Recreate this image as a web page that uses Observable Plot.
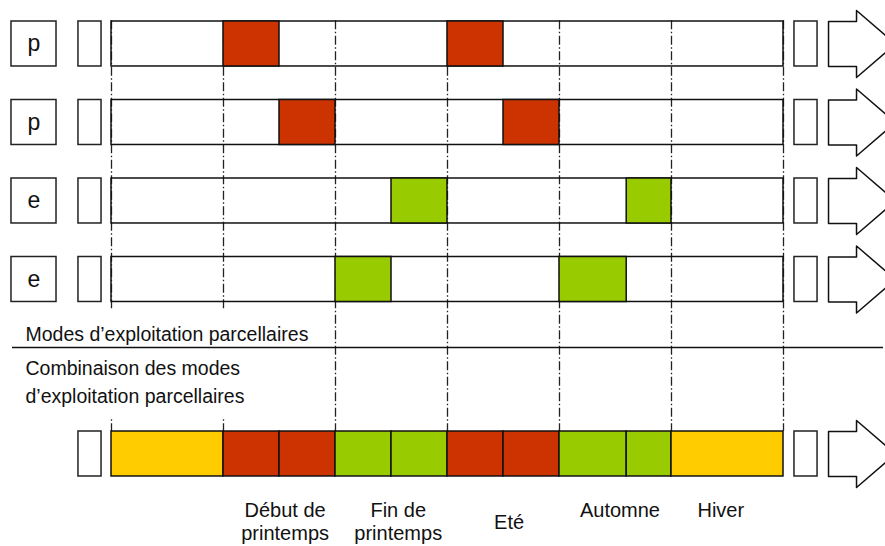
<!DOCTYPE html>
<html>
<head>
<meta charset="utf-8">
<script src="https://cdn.jsdelivr.net/npm/d3@7"></script>
<script src="https://cdn.jsdelivr.net/npm/@observablehq/plot@0.6"></script>
<style>
  html, body { margin: 0; padding: 0; background: #fff; }
  #chart { width: 885px; height: 546px; }
</style>
</head>
<body>
<div id="chart"></div>
<script>
// ---- data ----
const rowLabels = ["p", "p", "e", "e"];
// individual plot-use cells (row index, start, end, mode) in season units (0..6)
const cellRow   = [0, 0, 1, 1, 2, 2, 3, 3];
const cellStart = [1, 3, 1.5, 3.5, 2.5, 4.6, 2, 4];
const cellEnd   = [1.5, 3.5, 2, 4, 3, 5, 2.5, 4.6];
const cellMode  = ["p", "p", "p", "p", "e", "e", "e", "e"];
// combined row
const combStart = [0, 1, 1.5, 2, 2.5, 3, 3.5, 4, 4.6, 5];
const combEnd   = [1, 1.5, 2, 2.5, 3, 3.5, 4, 4.6, 5, 6];
const combMode  = ["h", "p", "p", "e", "e", "p", "p", "e", "e", "h"];
// season boundaries and labels
const boundaries = [0, 1, 2, 3, 4, 5, 6];
const seasonLabels = ["Début de\nprintemps", "Fin de\nprintemps", "Eté", "Automne", "Hiver"];
const seasonStart  = [1, 2, 3, 4, 5];
const modeNames = ["p", "e", "h"];
const modeColors = ["#CC3300", "#99CC00", "#FFCC00"];
const topText = "Modes d\u2019exploitation parcellaires";
const bottomText = "Combinaison des modes\nd\u2019exploitation parcellaires";

// ---- layout (in scale units) ----
const rowH = 0.573;
const combTop = 5.223;
const sepY = 4.153;
const seasonOffset = [0.55, 0.56, 0.55, 0.54, 0.44];
const seasonBaseline = [6.611, 6.611, 6.459, 6.318, 6.318];

const rows = rowLabels.map((label, i) => ({label, top: i}));
const cells = cellRow.map((r, i) => ({top: r, x1: cellStart[i], x2: cellEnd[i], mode: cellMode[i]}));
const comb = combStart.map((s, i) => ({top: combTop, x1: s, x2: combEnd[i], mode: combMode[i]}));
const allTops = [...rows.map(r => r.top), combTop];
const arrows = allTops.flatMap((t, k) => {
  const h = 0.14;
  const pts = [
    [6.402, t], [6.652, t], [6.652, t - h], [7.0, t + rowH / 2],
    [6.652, t + rowH + h], [6.652, t + rowH], [6.402, t + rowH], [6.402, t]
  ];
  return pts.map(([x, y]) => ({x, y, k}));
});
const seasons = seasonLabels.map((s, i) => ({
  text: s, x: seasonStart[i] + seasonOffset[i], y: seasonBaseline[i]
}));

const stroke = "#111";
const chart = Plot.plot({
  width: 885,
  height: 546,
  margin: 0,
  x: {domain: [0, 6], range: [111, 783], axis: null},
  y: {domain: [0, 1], range: [21, 99.5], axis: null},
  color: {domain: modeNames, range: modeColors},
  style: {fontFamily: "'Liberation Sans', Arial, sans-serif", background: "#fff", overflow: "hidden"},
  marks: [
    // row frames (white)
    Plot.rect(rows, {x1: 0, x2: 6, y1: d => d.top, y2: d => d.top + rowH, fill: "#fff"}),
    // dash-dot season boundaries
    Plot.ruleX(boundaries, {x: d => d, y1: -0.01, y2: combTop, stroke: "#222", strokeWidth: 1.3, strokeDasharray: "9,2.5,1.5,2.5"}),
    // white area behind the left texts
    Plot.rect([0], {x1: -0.95, x2: 1.87, y1: 3.682, y2: 5.057, fill: "#fff"}),
    // separator line
    Plot.ruleY([sepY], {x1: -0.884, x2: 6.893, stroke: stroke, strokeWidth: 1.5}),
    // row frame outlines
    Plot.rect(rows, {x1: 0, x2: 6, y1: d => d.top, y2: d => d.top + rowH, fill: "none", stroke: stroke, strokeWidth: 1.5}),
    // coloured cells
    Plot.rect(cells, {x1: "x1", x2: "x2", y1: "top", y2: d => d.top + rowH, fill: "mode", stroke: stroke, strokeWidth: 1.5}),
    Plot.rect(comb, {x1: "x1", x2: "x2", y1: "top", y2: d => d.top + rowH, fill: "mode", stroke: stroke, strokeWidth: 1.5}),
    // label boxes
    Plot.rect(rows, {x1: -0.893, x2: -0.491, y1: "top", y2: d => d.top + rowH, fill: "#fff", stroke: "#222", strokeWidth: 1.5}),
    Plot.text(rows, {x: -0.692, y: d => d.top + rowH / 2, text: "label", fontSize: 23, fill: "#111"}),
    // small rects left and right
    Plot.rect(allTops, {x1: -0.295, x2: -0.089, y1: d => d, y2: d => d + rowH, fill: "#fff", stroke: "#222", strokeWidth: 1.5}),
    Plot.rect(allTops, {x1: 6.098, x2: 6.304, y1: d => d, y2: d => d + rowH, fill: "#fff", stroke: "#222", strokeWidth: 1.5}),
    // block arrows
    Plot.line(arrows, {x: "x", y: "y", z: "k", fill: "#fff", stroke: stroke, strokeWidth: 1.5, curve: "linear"}),
    // texts
    Plot.text([topText], {x: -0.768, y: 4.064, text: d => d, textAnchor: "start", lineAnchor: "bottom", fontSize: 19.5, fill: "#111"}),
    Plot.text([bottomText], {x: -0.768, y: 4.854, text: d => d, textAnchor: "start", lineAnchor: "bottom", lineHeight: 1.436, fontSize: 19.5, fill: "#111"}),
    Plot.text(seasons, {x: "x", y: "y", text: "text", lineAnchor: "bottom", lineHeight: 1.15, fontSize: 20, fill: "#111"})
  ]
});
document.getElementById("chart").appendChild(chart);
</script>
</body>
</html>
